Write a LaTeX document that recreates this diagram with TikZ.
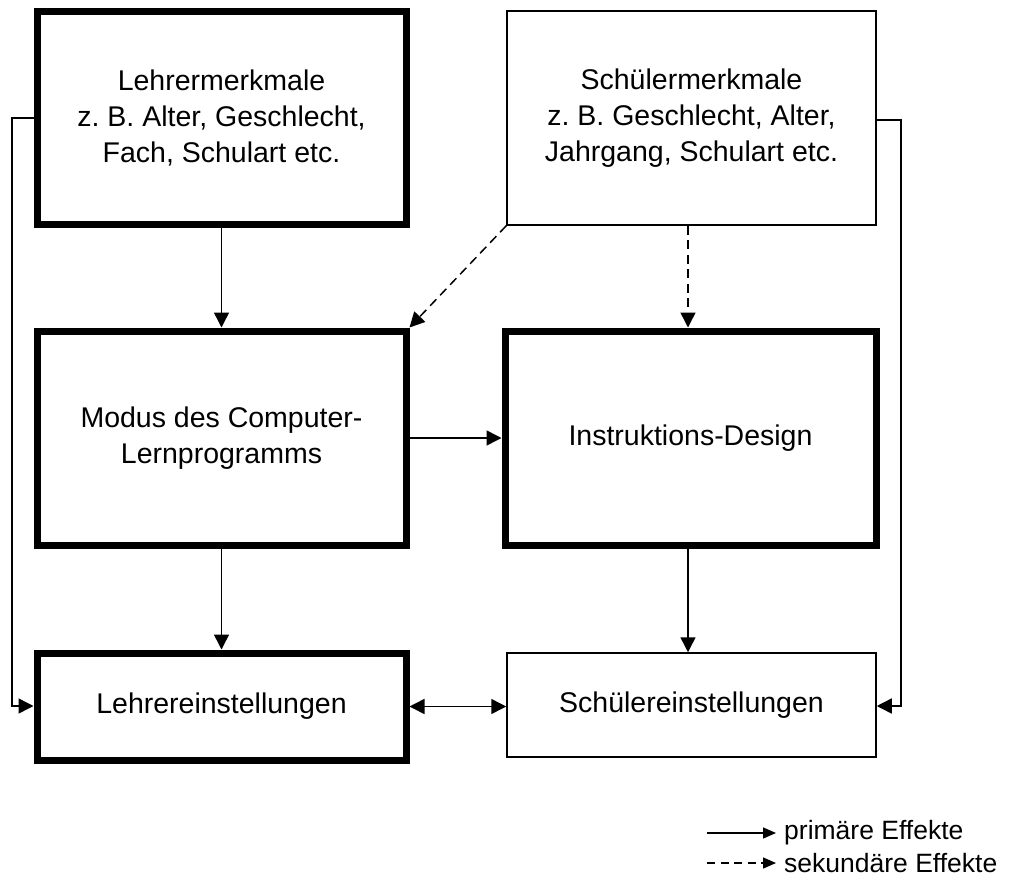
\documentclass[tikz,border=0pt]{standalone}
\usepackage{fontspec}
\setmainfont{Liberation Sans}
\usetikzlibrary{arrows.meta,calc}
\frenchspacing
\begin{document}
\begin{tikzpicture}[x=1pt,y=-1pt,
  box/.style={draw,inner sep=0pt,align=center,font=\fontsize{28.5}{36}\selectfont},
  thickbox/.style={box,line width=7pt},
  thinbox/.style={box,line width=1.5pt},
  conn/.style={line width=1.5pt,-{Triangle[length=15pt,width=15pt]}},
  dconn/.style={conn,dash pattern=on 9pt off 5.5pt},
  legarrow/.style={line width=1.5pt,-{Triangle[length=13pt,width=11pt]}},
  legtext/.style={anchor=west,inner sep=0pt,font=\fontsize{26.5}{30}\selectfont}]
\useasboundingbox (0,0) rectangle (1018,881);
\node[thickbox,minimum width=369pt,minimum height=213pt] (B1) at (221.5,118) {Lehrermerkmale\\z. B. Alter, Geschlecht,\\Fach, Schulart etc.};
\node[thinbox,minimum width=369pt,minimum height=214pt] (B2) at (691.5,118) {Schülermerkmale\\z. B. Geschlecht, Alter,\\Jahrgang, Schulart etc.};
\node[thickbox,minimum width=369pt,minimum height=214pt] (B3) at (221.5,438) {Modus des Computer-\\Lernprogramms};
\node[thickbox,minimum width=371pt,minimum height=214pt] (B4) at (690.5,438) {Instruktions-Design};
\node[thickbox,minimum width=369pt,minimum height=107pt] (B5) at (221.5,706.5) {Lehrereinstellungen};
\node[thinbox,minimum width=369pt,minimum height=104pt] (B6) at (691.5,705) {Schülereinstellungen};
\coordinate (cx) at (688,0);
\coordinate (L1) at (12,118);
\coordinate (L2) at (12,706);
\coordinate (R1) at (901,120);
\coordinate (R2) at (901,706);
% primary arrows
\draw[conn] (B1.south) -- (B3.north);
\draw[conn] (B3.east) -- (B4.west);
\draw[conn] (B3.south) -- (B5.north);
\draw[conn] (B4.south -| cx) -- (B6.north -| cx);
\draw[line width=1.5pt,{Triangle[length=15pt,width=15pt]}-{Triangle[length=15pt,width=15pt]}] (B5.east) -- (B5.east -| B6.west);
\draw[conn] (B1.west |- L1) -- (L1) -- (L2) -- (B5.west |- L2);
\draw[conn] (B2.east |- R1) -- (R1) -- (R2) -- (B6.east |- R2);
% secondary arrows
\draw[dconn] (B2.south west) -- (B3.north east);
\draw[dconn] (B2.south -| cx) -- (B4.north -| cx);
% legend
\coordinate (la1) at (707,833);
\coordinate (lb1) at (707,863);
\node[legtext] (lt1) at (784,833) {primäre Effekte};
\node[legtext] (lt2) at (784,863) {sekundäre Effekte};
\draw[legarrow] (la1) -- ($(lt1.west)+(-8,0)$);
\draw[legarrow,dash pattern=on 8pt off 5.5pt] (lb1) -- ($(lt2.west)+(-8,0)$);
\end{tikzpicture}
\end{document}
